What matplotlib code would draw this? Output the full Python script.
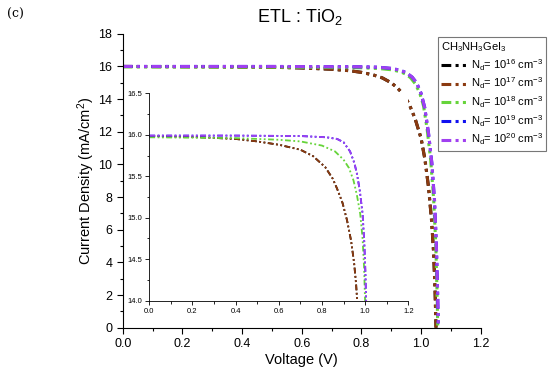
import matplotlib.pyplot as plt
import numpy as np
from matplotlib.ticker import MultipleLocator

plt.rcParams['font.family'] = ['Liberation Sans', 'DejaVu Sans']
plt.rcParams['mathtext.fontset'] = 'custom'
plt.rcParams['mathtext.rm'] = 'Liberation Sans'
plt.rcParams['mathtext.it'] = 'Liberation Sans:italic'

# doping levels and colours
labels = ['N$_\\mathregular{d}$= 10$^{\\mathregular{16}}$ cm$^{\\mathregular{-3}}$',
          'N$_\\mathregular{d}$= 10$^{\\mathregular{17}}$ cm$^{\\mathregular{-3}}$',
          'N$_\\mathregular{d}$= 10$^{\\mathregular{18}}$ cm$^{\\mathregular{-3}}$',
          'N$_\\mathregular{d}$= 10$^{\\mathregular{19}}$ cm$^{\\mathregular{-3}}$',
          'N$_\\mathregular{d}$= 10$^{\\mathregular{20}}$ cm$^{\\mathregular{-3}}$']
colors = ['#000000', '#8B3A10', '#66D43A', '#1010F0', '#A040F0']

# main J-V curves
v_low = [0, 0.3, 0.5, 0.6, 0.7, 0.76, 0.8, 0.84, 0.87, 0.9, 0.92, 0.94, 0.96, 0.98,
         1.0, 1.013, 1.025, 1.035, 1.042, 1.047, 1.05]
j_low = [16.0, 15.98, 15.95, 15.91, 15.83, 15.74, 15.64, 15.48, 15.3, 15.0, 14.7, 14.3,
         13.7, 12.8, 11.6, 10.3, 8.6, 6.6, 4.6, 2.2, 0.0]
v_mid = [0, 0.5, 0.8, 0.86, 0.9, 0.93, 0.95, 0.965, 0.98, 0.995, 1.008, 1.02, 1.032,
         1.042, 1.049, 1.053, 1.056]
j_mid = [15.97, 15.96, 15.92, 15.87, 15.8, 15.68, 15.52, 15.3, 14.95, 14.4, 13.6, 12.2,
         10.3, 7.9, 5.2, 2.5, 0.0]
v_high = [0, 0.5, 0.8, 0.86, 0.9, 0.93, 0.95, 0.97, 0.985, 1.0, 1.012, 1.025, 1.036,
          1.045, 1.051, 1.055, 1.058]
j_high = [16.0, 16.0, 15.98, 15.95, 15.88, 15.77, 15.62, 15.35, 15.0, 14.35, 13.5, 11.9,
          10.1, 7.8, 5.2, 2.5, 0.0]
main_v = [v_low, v_low, v_mid, v_high, v_high]
main_j = [j_low, j_low, j_mid, j_high, j_high]

# inset (zoomed) curves
iv_low = [0, 0.24, 0.4, 0.5, 0.6, 0.7, 0.76, 0.815, 0.85, 0.87, 0.895, 0.916, 0.935,
          0.949, 0.958, 0.963, 0.966]
ij_low = [15.985, 15.97, 15.95, 15.92, 15.88, 15.82, 15.74, 15.61, 15.47, 15.35, 15.18,
          14.97, 14.72, 14.45, 14.2, 14.0, 13.85]
iv_mid = [0, 0.4, 0.6, 0.7, 0.8, 0.86, 0.9, 0.925, 0.946, 0.962, 0.977, 0.988, 0.995,
          0.999, 1.002]
ij_mid = [15.97, 15.96, 15.94, 15.92, 15.87, 15.8, 15.7, 15.6, 15.45, 15.27, 15.05,
          14.75, 14.4, 14.05, 13.85]
iv_high = [0, 0.4, 0.7, 0.82, 0.87, 0.9, 0.93, 0.95, 0.962, 0.975, 0.988, 0.996, 1.001,
           1.004, 1.006]
ij_high = [15.99, 15.99, 15.985, 15.97, 15.95, 15.91, 15.8, 15.66, 15.53, 15.33, 15.05,
           14.7, 14.35, 14.05, 13.85]
inset_v = [iv_low, iv_low, iv_mid, iv_high, iv_high]
inset_j = [ij_low, ij_low, ij_mid, ij_high, ij_high]

dash = (0, (3.2, 1.4, 1.0, 1.4, 1.0, 1.4))

fig = plt.figure(figsize=(5.5, 3.79), dpi=100)
ax = fig.add_axes([0.2231, 0.1354, 0.651, 0.7754])

for i in range(5):
    ax.plot(main_v[i], main_j[i], color=colors[i], lw=2.2, linestyle=dash, label=labels[i])

ax.set_xlim(0, 1.2)
ax.set_ylim(0, 18)
ax.spines['top'].set_visible(False)
ax.spines['right'].set_visible(False)
ax.xaxis.set_major_locator(MultipleLocator(0.2))
ax.xaxis.set_minor_locator(MultipleLocator(0.1))
ax.yaxis.set_major_locator(MultipleLocator(2))
ax.yaxis.set_minor_locator(MultipleLocator(1))
ax.xaxis.set_major_formatter(lambda x, p: f'{x:.1f}')
ax.tick_params(labelsize=9, length=4, width=0.8)
ax.tick_params(which='minor', length=2.5, width=0.8)
ax.set_xlabel('Voltage (V)', fontsize=10.5, labelpad=2)
ax.set_ylabel('Current Density (mA/cm$^{\\mathregular{2}}$)', fontsize=10.5, labelpad=1)

leg = fig.legend(loc='upper left', bbox_to_anchor=(0.796, 0.903),
                 title='CH$_\\mathregular{3}$NH$_\\mathregular{3}$GeI$_\\mathregular{3}$',
                 fontsize=8, title_fontsize=8, fancybox=False, edgecolor='#555555',
                 handlelength=2.5, handletextpad=0.15, labelspacing=0.28,
                 borderpad=0.3, borderaxespad=0)
leg._legend_box.align = 'left'
leg.get_frame().set_linewidth(0.8)

# inset
axi = fig.add_axes([0.2715, 0.2066, 0.4709, 0.5472])
axi.set_facecolor('white')
for i in range(5):
    axi.plot(inset_v[i], inset_j[i], color=colors[i], lw=1.3, linestyle=dash)
axi.set_xlim(0, 1.2)
axi.set_ylim(14.0, 16.5)
axi.spines['top'].set_visible(False)
axi.spines['right'].set_visible(False)
axi.xaxis.set_major_locator(MultipleLocator(0.2))
axi.xaxis.set_minor_locator(MultipleLocator(0.1))
axi.yaxis.set_major_locator(MultipleLocator(0.5))
axi.yaxis.set_minor_locator(MultipleLocator(0.25))
axi.xaxis.set_major_formatter(lambda x, p: f'{x:.1f}')
axi.tick_params(labelsize=5.5, length=3, width=0.6, pad=2)
axi.tick_params(which='minor', length=1.8, width=0.6)
for s in axi.spines.values():
    s.set_linewidth(0.6)

fig.text(0.545, 0.955, 'ETL : TiO$_\\mathregular{2}$', fontsize=13, ha='center', va='center')
fig.text(0.012, 0.962, '(c)', fontsize=9, family='serif', ha='left', va='center')

fig.savefig('out.png', dpi=100)
